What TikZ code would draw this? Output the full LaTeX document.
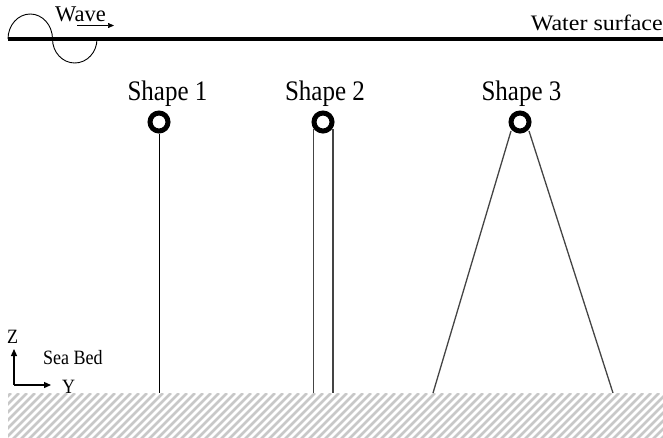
\documentclass[tikz,border=0pt]{standalone}
\usepackage{fontspec}
\setmainfont{Liberation Serif}
\usetikzlibrary{arrows.meta}
\definecolor{hatchgrey}{HTML}{C8C8C8}
\definecolor{linegrey}{HTML}{444444}
\tikzset{
  tall/.style={yscale=1.13, transform shape},
  label25/.style={font=\fontsize{25}{30}\selectfont, inner sep=0pt, anchor=base, tall},
  labeltop/.style={inner sep=0pt},
  label18/.style={font=\fontsize{18}{22}\selectfont, inner sep=0pt, tall},
  buoy/.style={circle, draw=black, line width=5pt, minimum size=18pt, inner sep=0pt},
  mooring/.style={draw=linegrey, line width=1.3pt},
  axisarrow/.style={line width=1.3pt, -{Triangle[length=7pt,width=6pt]}},
}
\begin{document}
\begin{tikzpicture}[x=1pt,y=-1pt]
\useasboundingbox (0,0) rectangle (663,437);

% sea bed hatching
\begin{scope}
  \clip (8,393) rectangle (663,437);
  \foreach \k in {-60,-52,...,670}
    \draw[hatchgrey, line width=2.6pt] (\k,440) -- (\k+47,393);
\end{scope}

% water surface
\draw[line width=4pt] (8,39) -- (663,39);
\node[labeltop, font=\fontsize{24}{28}\selectfont, yscale=0.92, transform shape, anchor=base east] (water) at (663,30) {Water surface};

% wave sketch
\draw[line width=0.9pt] (8,39) arc[start angle=180, end angle=360, x radius=22.25, y radius=25]
      arc[start angle=180, end angle=0, x radius=22.25, y radius=24];
\node[labeltop, font=\fontsize{22.5}{27}\selectfont, anchor=base west] (wave) at (55,21) {Wave};
\coordinate (wa) at (77,25.5);
\coordinate (wb) at (114,25.5);
\draw[line width=0.6pt, -{Triangle[length=6pt,width=5pt]}] (wa) -- (wb);

% buoys and labels
\node[label25] (t1) at (167.5,100) {Shape 1};
\node[label25] (t2) at (325,100) {Shape 2};
\node[label25] (t3) at (521.5,100) {Shape 3};
\node[buoy] (b1) at (159,122) {};
\node[buoy] (b2) at (323,122) {};
\node[buoy] (b3) at (520,122) {};

% anchor points on the sea bed
\coordinate (g1) at (159,393);
\coordinate (g2a) at (313.5,393);
\coordinate (g2b) at (333,393);
\coordinate (g3a) at (433,393);
\coordinate (g3b) at (613,393);
\coordinate (s2a) at (313.5,129);
\coordinate (s2b) at (333,129);
\coordinate (s3a) at (511,131);
\coordinate (s3b) at (529,131);

% mooring lines
\draw[line width=1pt, black] (b1.south) -- (g1);
\draw[mooring] (s2a) -- (g2a);
\draw[mooring] (s2b) -- (g2b);
\draw[mooring] (s3a) -- (g3a);
\draw[mooring] (s3b) -- (g3b);

% axes
\coordinate (o) at (14,385);
\coordinate (zt) at (14,349);
\coordinate (yt) at (51,385);
\draw[axisarrow] (o) -- (zt);
\draw[axisarrow] (o) -- (yt);
\node[label18, anchor=base west] (z) at (7,343) {Z};
\node[label18, anchor=base west] (y) at (62,393) {Y};
\node[label18, anchor=base west] (bed) at (43,364) {Sea Bed};
\end{tikzpicture}
\end{document}
